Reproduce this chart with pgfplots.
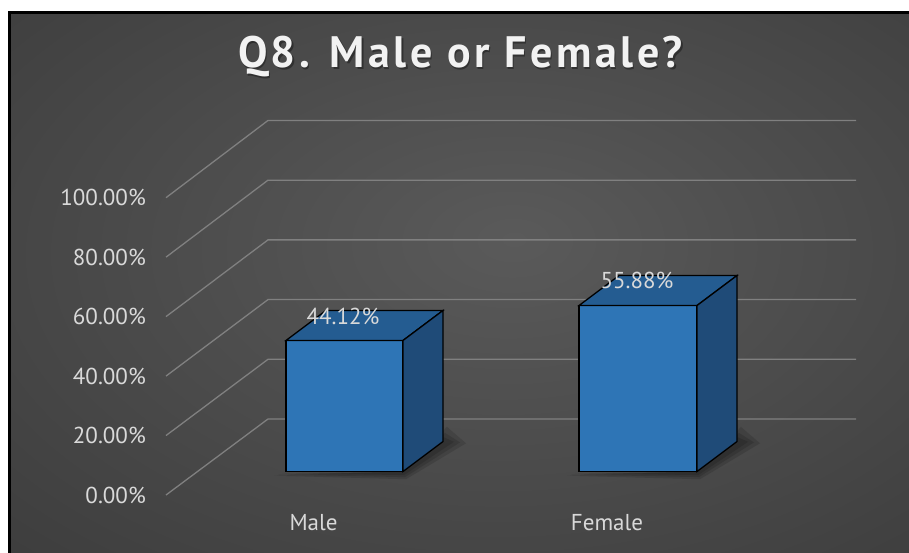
\documentclass[border=0pt]{standalone}
\usepackage{pgfplots}
\pgfplotsset{compat=1.18}
\usepackage{fontspec}
\setmainfont{PT Sans}
\definecolor{frontc}{RGB}{46,117,182}
\definecolor{topc}{RGB}{36,92,145}
\definecolor{sidec}{RGB}{31,75,120}
\definecolor{gridc}{RGB}{128,128,128}
\definecolor{txtc}{RGB}{217,217,217}
\definecolor{titc}{RGB}{242,242,242}
\definecolor{bgin}{RGB}{90,90,90}
\definecolor{bgout}{RGB}{36,36,36}
\pgfdeclareradialshading{bgshade}{\pgfpoint{3bp}{4bp}}{color(0bp)=(bgin); color(72bp)=(bgout)}
\tikzset{lab/.style={txtc, font=\fontsize{23}{23}\selectfont},
  shd/.style={fill=black, fill opacity=0.13, draw=none}}
\begin{document}
\begin{tikzpicture}
\begin{axis}[scale only axis, width=909pt, height=552pt,
  xmin=0, xmax=909, ymin=-27.10, ymax=158.75,
  axis lines=none, clip=false]
% background
\fill[white] (axis cs:0,-27.10) rectangle (axis cs:909,158.75);
\fill[bgout] (axis cs:9,-27.6) rectangle (axis cs:912,155.0);
\shade[shading=bgshade] (axis cs:9,-27.6) rectangle (axis cs:912,155.0);
\draw[black, line width=2.5pt] (axis cs:9.5,-27.6) -- (axis cs:9.5,154.6) -- (axis cs:912,154.6);
% 3D gridlines (front-left, back wall)
\addplot[gridc, line width=1.3pt] coordinates {(166,-7.91) (268,17.68) (856,17.68)};
\addplot[gridc, line width=1.3pt] coordinates {(166,12.11) (268,37.78) (856,37.78)};
\addplot[gridc, line width=1.3pt] coordinates {(166,32.13) (268,57.88) (856,57.88)};
\addplot[gridc, line width=1.3pt] coordinates {(166,52.15) (268,77.99) (856,77.99)};
\addplot[gridc, line width=1.3pt] coordinates {(166,72.17) (268,98.09) (856,98.09)};
\addplot[gridc, line width=1.3pt] coordinates {(166,92.19) (268,118.19) (856,118.19)};
% soft shadows
\addplot[shd] coordinates {(274,-1.4) (406,-2.6) (466,9.5) (447,15) (403,0)} --cycle;
\addplot[shd] coordinates {(278,-1.0) (405,-1.9) (460,9.8) (445,13) (403,0)} --cycle;
\addplot[shd] coordinates {(282,-0.6) (404,-1.2) (454,10) (444,11.5) (403,0)} --cycle;
\addplot[shd] coordinates {(567,-1.4) (700,-2.6) (760,9.5) (741,15) (697,0)} --cycle;
\addplot[shd] coordinates {(571,-1.0) (699,-1.9) (754,9.8) (739,13) (697,0)} --cycle;
\addplot[shd] coordinates {(575,-0.6) (698,-1.2) (748,10) (738,11.5) (697,0)} --cycle;
% Male bar (44.12)
\addplot[fill=frontc, draw=black, line width=1.3pt] coordinates {(286,0) (403,0) (403,44.12) (286,44.12)} --cycle;
\addplot[fill=topc, draw=black, line width=1.3pt] coordinates {(286,44.12) (403,44.12) (443,54.22) (326,54.22)} --cycle;
\addplot[fill=sidec, draw=black, line width=1.3pt] coordinates {(403,0) (443,10.1) (443,54.22) (403,44.12)} --cycle;
% Female bar (55.88)
\addplot[fill=frontc, draw=black, line width=1.3pt] coordinates {(579,0) (697,0) (697,55.88) (579,55.88)} --cycle;
\addplot[fill=topc, draw=black, line width=1.3pt] coordinates {(579,55.88) (697,55.88) (737,65.98) (619,65.98)} --cycle;
\addplot[fill=sidec, draw=black, line width=1.3pt] coordinates {(697,0) (737,10.1) (737,65.98) (697,55.88)} --cycle;
% data labels
\node[lab] at (axis cs:343,52.3) {44.12\%};
\node[lab] at (axis cs:637,64.2) {55.88\%};
% y tick labels
\node[lab, anchor=east, inner sep=0pt] at (axis cs:146,-7.91) {0.00\%};
\node[lab, anchor=east, inner sep=0pt] at (axis cs:146,12.11) {20.00\%};
\node[lab, anchor=east, inner sep=0pt] at (axis cs:146,32.13) {40.00\%};
\node[lab, anchor=east, inner sep=0pt] at (axis cs:146,52.15) {60.00\%};
\node[lab, anchor=east, inner sep=0pt] at (axis cs:146,72.17) {80.00\%};
\node[lab, anchor=east, inner sep=0pt] at (axis cs:146,92.19) {100.00\%};
% category labels
\node[lab] at (axis cs:313.5,-17.3) {Male};
\node[lab] at (axis cs:607,-17.3) {Female};
% title
\node[black, opacity=0.35, font=\fontsize{44}{44}\selectfont\bfseries\addfontfeatures{LetterSpace=8}] at (axis cs:461.7,139.1) {Q8. Male or Female?};
\node[titc, font=\fontsize{44}{44}\selectfont\bfseries\addfontfeatures{LetterSpace=8}] at (axis cs:460.5,139.6) {Q8. Male or Female?};
\end{axis}
\pgfresetboundingbox
\path[use as bounding box] (current axis.south west) rectangle (current axis.north east);
\end{tikzpicture}
\end{document}
